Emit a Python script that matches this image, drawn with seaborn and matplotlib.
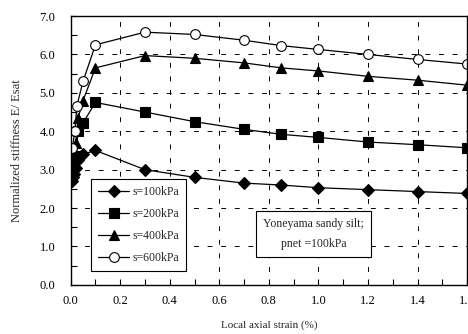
import matplotlib
matplotlib.use("Agg")
import matplotlib.pyplot as plt
import seaborn as sns
import pandas as pd
from matplotlib.ticker import MultipleLocator

# data
x_100 = [0.005, 0.01, 0.015, 0.02, 0.03, 0.05, 0.1, 0.3, 0.5, 0.7, 0.85, 1.0, 1.2, 1.4, 1.6]
y_100 = [2.70, 2.82, 2.88, 3.05, 3.25, 3.40, 3.50, 3.00, 2.80, 2.65, 2.60, 2.53, 2.48, 2.43, 2.38]
x_200 = [0.005, 0.01, 0.015, 0.02, 0.03, 0.05, 0.1, 0.3, 0.5, 0.7, 0.85, 1.0, 1.2, 1.4, 1.6]
y_200 = [2.95, 3.05, 3.20, 3.35, 4.00, 4.22, 4.75, 4.50, 4.25, 4.05, 3.92, 3.84, 3.72, 3.65, 3.57]
x_400 = [0.01, 0.02, 0.03, 0.05, 0.1, 0.3, 0.5, 0.7, 0.85, 1.0, 1.2, 1.4, 1.6]
y_400 = [3.40, 3.70, 4.35, 4.80, 5.65, 5.97, 5.90, 5.78, 5.65, 5.57, 5.43, 5.33, 5.20]
x_600 = [0.007, 0.017, 0.025, 0.05, 0.1, 0.3, 0.5, 0.7, 0.85, 1.0, 1.2, 1.4, 1.6]
y_600 = [3.56, 4.00, 4.66, 5.30, 6.25, 6.58, 6.52, 6.37, 6.23, 6.13, 6.00, 5.87, 5.75]
labels = ["s=100kPa", "s=200kPa", "s=400kPa", "s=600kPa"]
xticks = [0.0, 0.2, 0.4, 0.6, 0.8, 1.0, 1.2, 1.4, 1.6]
yticks = [0.0, 1.0, 2.0, 3.0, 4.0, 5.0, 6.0, 7.0]

sns.set_style("ticks")
plt.rcParams['font.family'] = ['Liberation Serif', 'DejaVu Serif']

fig = plt.figure(figsize=(4.68, 3.34), dpi=100)
ax = fig.add_axes([0.151, 0.147, 0.847, 0.805])

series = [(x_100, y_100, "D", "black", 6.0),
          (x_200, y_200, "s", "black", 7.0),
          (x_400, y_400, "^", "black", 7.0),
          (x_600, y_600, "o", "white", 7.0)]

for (xs, ys, m, fc, ms), lab in zip(series, labels):
    df = pd.DataFrame({"x": xs, "y": ys})
    sns.lineplot(data=df, x="x", y="y", ax=ax, color="black", lw=0.9,
                 marker=m, markersize=ms, markerfacecolor=fc,
                 markeredgecolor="black", markeredgewidth=0.8,
                 label=lab, sort=False, estimator=None)

ax.set_xlim(0, 1.6)
ax.set_ylim(0, 7)
ax.set_xticks(xticks)
ax.set_yticks(yticks)
ax.set_xticklabels([f"{v:.1f}" for v in xticks])
ax.set_yticklabels([f"{v:.1f}" for v in yticks])
ax.xaxis.set_minor_locator(MultipleLocator(0.1))
ax.yaxis.set_minor_locator(MultipleLocator(0.5))
ax.tick_params(which="both", direction="in", length=4, width=0.8, labelsize=9,
               colors="black", top=False, right=False)
ax.tick_params(axis="x", which="major", pad=7)
ax.tick_params(axis="y", which="major", pad=11)
ax.grid(True, which="major", color="black", linestyle=(0, (5, 9)), lw=0.7)
for sp in ax.spines.values():
    sp.set_color("black")
    sp.set_linewidth(1.0)

ax.set_xlabel("Local axial strain (%)", fontsize=8, labelpad=10)
ax.set_ylabel("Normalized stiffness E/ Esat", fontsize=9, labelpad=12)

leg = ax.legend(loc="lower left", bbox_to_anchor=(0.037, 0.03), fontsize=8.5,
                frameon=True, fancybox=False, edgecolor="black", framealpha=1,
                handlelength=2.6, labelspacing=0.85, borderpad=0.6, handletextpad=0.3)
leg.get_frame().set_linewidth(0.8)

ax.text(0.98, 1.32, "Yoneyama sandy silt;\npnet =100kPa", ha="center", va="center",
        fontsize=8.5, linespacing=1.9,
        bbox=dict(boxstyle="square,pad=0.6", fc="white", ec="black", lw=0.8))

fig.savefig("out.png", dpi=100)
